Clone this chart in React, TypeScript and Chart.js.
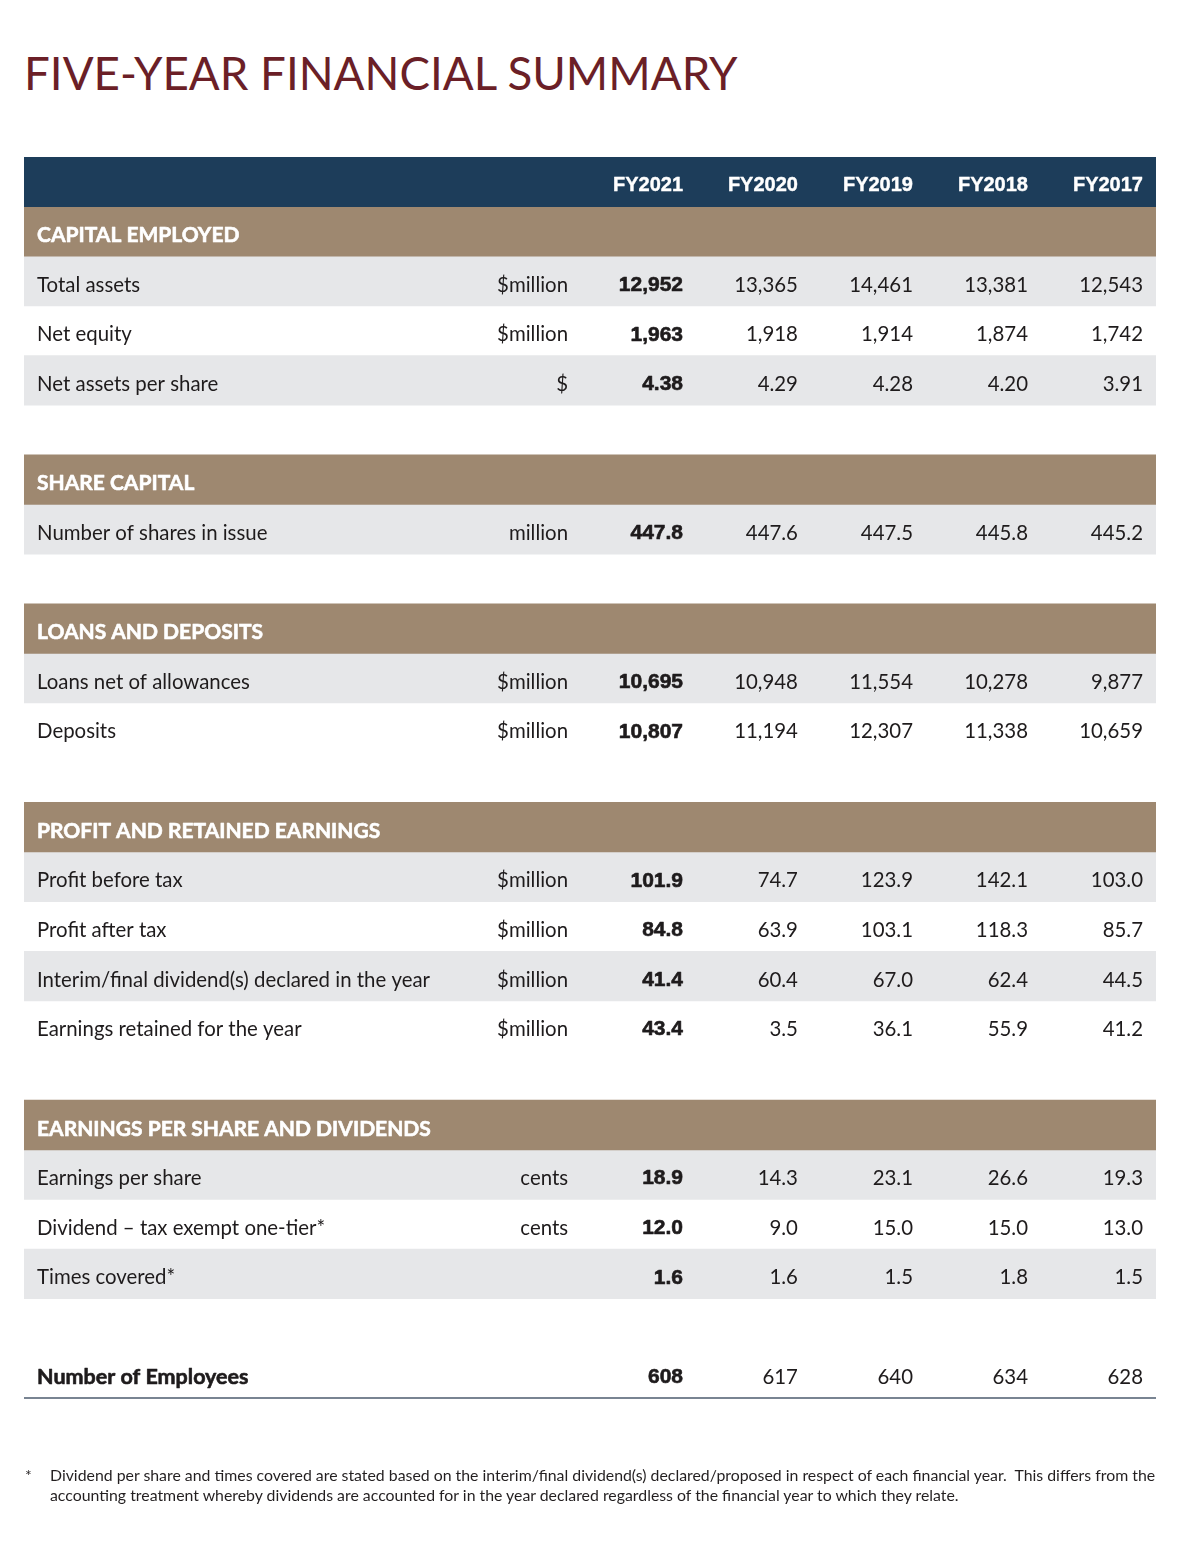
import React, { useEffect, useRef } from "react";
import { Chart, registerables } from "chart.js";

Chart.register(...registerables);

// ---------------- DATA ----------------
const years = ["FY2021", "FY2020", "FY2019", "FY2018", "FY2017"];

const capitalTitle = "CAPITAL EMPLOYED";
const capitalLabels = ["Total assets", "Net equity", "Net assets per share"];
const capitalUnits = ["$million", "$million", "$"];
const totalAssets = [12952, 13365, 14461, 13381, 12543];
const netEquity = [1963, 1918, 1914, 1874, 1742];
const netAssetsPerShare = [4.38, 4.29, 4.28, 4.2, 3.91];

const shareTitle = "SHARE CAPITAL";
const shareLabels = ["Number of shares in issue"];
const shareUnits = ["million"];
const sharesInIssue = [447.8, 447.6, 447.5, 445.8, 445.2];

const loanTitle = "LOANS AND DEPOSITS";
const loanLabels = ["Loans net of allowances", "Deposits"];
const loanUnits = ["$million", "$million"];
const loansNet = [10695, 10948, 11554, 10278, 9877];
const deposits = [10807, 11194, 12307, 11338, 10659];

const profitTitle = "PROFIT AND RETAINED EARNINGS";
const profitLabels = [
  "Profit before tax",
  "Profit after tax",
  "Interim/final dividend(s) declared in the year",
  "Earnings retained for the year",
];
const profitUnits = ["$million", "$million", "$million", "$million"];
const profitBeforeTax = [101.9, 74.7, 123.9, 142.1, 103.0];
const profitAfterTax = [84.8, 63.9, 103.1, 118.3, 85.7];
const dividendsDeclared = [41.4, 60.4, 67.0, 62.4, 44.5];
const earningsRetained = [43.4, 3.5, 36.1, 55.9, 41.2];

const epsTitle = "EARNINGS PER SHARE AND DIVIDENDS";
const epsLabels = ["Earnings per share", "Dividend – tax exempt one-tier*", "Times covered*"];
const epsUnits = ["cents", "cents", ""];
const earningsPerShare = [18.9, 14.3, 23.1, 26.6, 19.3];
const dividendPerShare = [12.0, 9.0, 15.0, 15.0, 13.0];
const timesCovered = [1.6, 1.6, 1.5, 1.8, 1.5];

const employeesLabel = "Number of Employees";
const employees = [608, 617, 640, 634, 628];

const titleText = "FIVE-YEAR FINANCIAL SUMMARY";
const footnoteLines = [
  "Dividend per share and times covered are stated based on the interim/final dividend(s) declared/proposed in respect of each financial year.  This differs from the",
  "accounting treatment whereby dividends are accounted for in the year declared regardless of the financial year to which they relate.",
];

// ---------------- TABLE STRUCTURE ----------------
type Slot = {
  kind: "header" | "section" | "data" | "gap" | "total";
  label?: string;
  unit?: string;
  values?: number[];
  decimals?: number;
  shaded?: boolean;
};

const sections = [
  { title: capitalTitle, labels: capitalLabels, units: capitalUnits, series: [totalAssets, netEquity, netAssetsPerShare], decimals: [0, 0, 2] },
  { title: shareTitle, labels: shareLabels, units: shareUnits, series: [sharesInIssue], decimals: [1] },
  { title: loanTitle, labels: loanLabels, units: loanUnits, series: [loansNet, deposits], decimals: [0, 0] },
  { title: profitTitle, labels: profitLabels, units: profitUnits, series: [profitBeforeTax, profitAfterTax, dividendsDeclared, earningsRetained], decimals: [1, 1, 1, 1] },
  { title: epsTitle, labels: epsLabels, units: epsUnits, series: [earningsPerShare, dividendPerShare, timesCovered], decimals: [1, 1, 1] },
];

const slots: Slot[] = [{ kind: "header" }];
sections.forEach((s) => {
  slots.push({ kind: "section", label: s.title });
  s.labels.forEach((l, i) => {
    slots.push({ kind: "data", label: l, unit: s.units[i], values: s.series[i], decimals: s.decimals[i], shaded: i % 2 === 0 });
  });
  slots.push({ kind: "gap" });
});
slots.push({ kind: "total", label: employeesLabel, values: employees, decimals: 0 });

// ---------------- STYLE / LAYOUT ----------------
const W = 1181;
const H = 1545;
const NAVY = "#1d3d5a";
const BROWN = "#9e8870";
const GREY = "#e6e7e9";
const INK = "#1e1b1c";
const LABEL_X = 0.0115; // fraction across the table width
const UNIT_X = 0.4806;
const YEAR_X = [0.5822, 0.6837, 0.7853, 0.8869, 0.9885];
const TEXT_DY = 4;

const fmt = (v: number, d: number) =>
  v.toLocaleString("en-US", { minimumFractionDigits: d, maximumFractionDigits: d });

const BOLD_NUM = "bold 21px 'Liberation Sans', Arial, sans-serif";
const REG = "20.4px Lato, sans-serif";
const HEAVY = "bold 21px Lato, sans-serif";

// draw text with a faint extra stroke to thicken heavy weights
function heavyText(ctx: CanvasRenderingContext2D, t: string, x: number, y: number, w: number) {
  ctx.fillText(t, x, y);
  ctx.lineWidth = w;
  ctx.strokeStyle = ctx.fillStyle as string;
  ctx.strokeText(t, x, y);
}

const tablePlugin = {
  id: "tableText",
  afterDatasetsDraw(chart: any) {
    const { ctx, scales } = chart;
    const xs = scales.x;
    const ys = scales.y;
    const lx = xs.getPixelForValue(LABEL_X);
    const ux = xs.getPixelForValue(UNIT_X);
    const colX = YEAR_X.map((v) => xs.getPixelForValue(v));
    const slotH = Math.abs(ys.getPixelForValue(1) - ys.getPixelForValue(0));
    ctx.save();
    ctx.textBaseline = "middle";
    ctx.lineJoin = "round";
    slots.forEach((s, i) => {
      const y = ys.getPixelForValue(i) + TEXT_DY;
      if (s.kind === "header") {
        ctx.fillStyle = "#ffffff";
        ctx.font = "bold 20px 'Liberation Sans', Arial, sans-serif";
        ctx.textAlign = "right";
        years.forEach((yr, j) => heavyText(ctx, yr, colX[j], y, 0.4));
      } else if (s.kind === "section") {
        ctx.fillStyle = "#ffffff";
        ctx.font = HEAVY;
        ctx.textAlign = "left";
        heavyText(ctx, s.label!, lx, y, 0.6);
      } else if (s.kind === "data") {
        ctx.fillStyle = INK;
        ctx.font = REG;
        ctx.textAlign = "left";
        ctx.fillText(s.label!, lx, y);
        ctx.textAlign = "right";
        if (s.unit) ctx.fillText(s.unit, ux, y);
        s.values!.forEach((v, j) => {
          if (j === 0) {
            ctx.font = BOLD_NUM;
            heavyText(ctx, fmt(v, s.decimals!), colX[j], y, 0.6);
          } else {
            ctx.font = REG;
            ctx.fillText(fmt(v, s.decimals!), colX[j], y);
          }
        });
      } else if (s.kind === "total") {
        ctx.fillStyle = INK;
        ctx.font = "bold 21.5px Lato, sans-serif";
        ctx.textAlign = "left";
        heavyText(ctx, s.label!, lx, y, 0.6);
        ctx.textAlign = "right";
        s.values!.forEach((v, j) => {
          if (j === 0) {
            ctx.font = BOLD_NUM;
            heavyText(ctx, fmt(v, s.decimals!), colX[j], y, 0.6);
          } else {
            ctx.font = REG;
            ctx.fillText(fmt(v, s.decimals!), colX[j], y);
          }
        });
        const by = ys.getPixelForValue(i) + slotH / 2;
        ctx.strokeStyle = "#4d5b6e";
        ctx.lineWidth = 1.5;
        ctx.beginPath();
        ctx.moveTo(xs.getPixelForValue(0), by);
        ctx.lineTo(xs.getPixelForValue(1), by);
        ctx.stroke();
      }
    });
    ctx.restore();
  },
};

export default function App() {
  const ref = useRef<HTMLCanvasElement | null>(null);

  useEffect(() => {
    document.body.style.margin = "0";
    if (!ref.current) return;
    const span = (k: (s: Slot) => boolean) => slots.map((s) => (k(s) ? [0, 1] : null));
    const chart = new Chart(ref.current, {
      type: "bar",
      data: {
        labels: slots.map((_, i) => "r" + i),
        datasets: [
          { label: "header", data: span((s) => s.kind === "header") as any, backgroundColor: NAVY },
          { label: "section", data: span((s) => s.kind === "section") as any, backgroundColor: BROWN },
          { label: "shaded", data: span((s) => s.kind === "data" && !!s.shaded) as any, backgroundColor: GREY },
        ],
      },
      options: {
        indexAxis: "y",
        responsive: false,
        animation: false,
        events: [],
        layout: { padding: { left: 24, right: 25, top: 157, bottom: 147 } },
        datasets: {
          bar: { barPercentage: 1, categoryPercentage: 1, borderWidth: 0, grouped: false } as any,
        },
        scales: {
          x: { type: "linear", min: 0, max: 1, display: false },
          y: { type: "category", display: false, offset: true },
        },
        plugins: { legend: { display: false }, tooltip: { enabled: false }, title: { display: false } },
      },
      plugins: [tablePlugin],
    });
    return () => chart.destroy();
  }, []);

  return (
    <div style={{ position: "absolute", left: 0, top: 0, width: W, height: H, background: "#fff" }}>
      <div
        style={{
          position: "absolute",
          left: 24,
          top: 50,
          fontFamily: "Lato, sans-serif",
          fontSize: 45.7,
          lineHeight: 1,
          color: "#6b1f27",
          whiteSpace: "nowrap",
        }}
      >
        {titleText}
      </div>
      <canvas ref={ref} width={W} height={H} style={{ position: "absolute", left: 0, top: 0, width: W, height: H }} />
      <div
        style={{
          position: "absolute",
          left: 0,
          top: 1465,
          width: W,
          fontFamily: "Lato, sans-serif",
          fontSize: 15.85,
          lineHeight: "20px",
          color: "#231f20",
        }}
      >
        <span style={{ position: "absolute", left: 25, top: 0 }}>*</span>
        <div style={{ position: "absolute", left: 50, top: 0, whiteSpace: "pre" }}>
          {footnoteLines[0]}
          {"\n"}
          {footnoteLines[1]}
        </div>
      </div>
    </div>
  );
}
